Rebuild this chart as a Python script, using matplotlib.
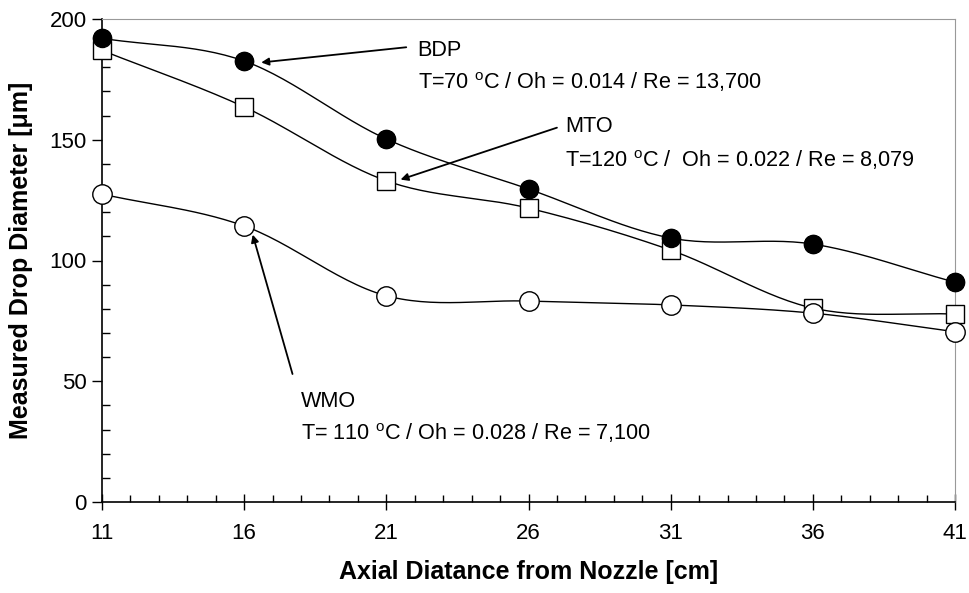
import numpy as np
import matplotlib
matplotlib.use("Agg")
import matplotlib.pyplot as plt
from matplotlib.ticker import MultipleLocator, FixedLocator

plt.rcParams["font.family"] = ["Liberation Sans", "DejaVu Sans"]

distance = [11, 16, 21, 26, 31, 36, 41]
bdp = [192.0, 182.6, 150.3, 129.6, 109.3, 106.8, 91.0]
mto = [187.0, 163.6, 133.0, 121.7, 104.3, 80.3, 77.8]
wmo = [127.5, 114.3, 85.4, 83.2, 81.6, 78.2, 70.5]


def smooth(x, y, n=30):
    # Excel-style smoothed line: Catmull-Rom through the data points
    x = np.asarray(x, float)
    y = np.asarray(y, float)
    px = np.concatenate([[2 * x[0] - x[1]], x, [2 * x[-1] - x[-2]]])
    py = np.concatenate([[2 * y[0] - y[1]], y, [2 * y[-1] - y[-2]]])
    xs, ys = [], []
    t = np.linspace(0, 1, n)
    for i in range(1, len(px) - 2):
        p0, p1, p2, p3 = [np.array([px[j], py[j]]) for j in range(i - 1, i + 3)]
        c1 = p1 + (p2 - p0) / 6
        c2 = p2 - (p3 - p1) / 6
        pts = ((1 - t) ** 3)[:, None] * p1 + (3 * (1 - t) ** 2 * t)[:, None] * c1 \
            + (3 * (1 - t) * t ** 2)[:, None] * c2 + (t ** 3)[:, None] * p2
        xs.extend(pts[:, 0])
        ys.extend(pts[:, 1])
    return np.array(xs), np.array(ys)


fig = plt.figure(figsize=(9.7, 5.93), dpi=100)
ax = fig.add_axes([102 / 970, 1 - 502 / 593, (955 - 102) / 970, (502 - 19) / 593])

for ys, mk, fc, ms in [(bdp, "o", "black", 13), (mto, "s", "white", 12.5), (wmo, "o", "white", 14)]:
    sx, sy = smooth(distance, ys)
    ax.plot(sx, sy, color="black", lw=1.0, zorder=2)
    ax.plot(distance, ys, ls="none", marker=mk, ms=ms, mfc=fc, mec="black", mew=1.0,
            zorder=3, clip_on=False)
# redraw BDP markers on top
ax.plot(distance, bdp, ls="none", marker="o", ms=13, mfc="black", mec="black", zorder=4, clip_on=False)

ax.set_xlim(11, 41)
ax.set_ylim(0, 200)
ax.xaxis.set_major_locator(FixedLocator(distance))
ax.xaxis.set_minor_locator(MultipleLocator(1))
ax.yaxis.set_major_locator(MultipleLocator(50))
ax.yaxis.set_minor_locator(MultipleLocator(10))
ax.tick_params(axis="x", which="major", direction="inout", length=12, width=1, labelsize=16, pad=9)
ax.tick_params(axis="x", which="minor", direction="in", length=5, width=1)
ax.tick_params(axis="y", which="major", direction="out", length=7, width=1, labelsize=16, pad=4)
ax.tick_params(axis="y", which="minor", direction="in", length=6, width=1)
for s in ["top", "right"]:
    ax.spines[s].set_color("#999999")
for s in ["left", "bottom"]:
    ax.spines[s].set_color("black")
    ax.spines[s].set_linewidth(1.2)

ax.set_xlabel("Axial Diatance from Nozzle [cm]", fontsize=18, fontweight="bold", labelpad=12)
ax.set_ylabel("Measured Drop Diameter [\u03bcm]", fontsize=18, fontweight="bold", labelpad=12)

arrow = dict(arrowstyle="-|>", color="black", lw=1.3, mutation_scale=11, shrinkA=0, shrinkB=0)
ax.annotate("", xy=(16.6, 182), xytext=(21.7, 188.3), arrowprops=arrow)
ax.annotate("", xy=(21.5, 133.5), xytext=(27.0, 155), arrowprops=arrow)
ax.annotate("", xy=(16.3, 110.7), xytext=(17.7, 53), arrowprops=arrow)

fs = 15.6
ax.text(22.1, 187, "BDP", fontsize=fs, va="center")
ax.text(22.1, 174, "T=70 $^\\mathregular{o}$C / Oh = 0.014 / Re = 13,700", fontsize=fs, va="center")
ax.text(27.3, 155.5, "MTO", fontsize=fs, va="center")
ax.text(27.3, 141.5, "T=120 $^\\mathregular{o}$C /  Oh = 0.022 / Re = 8,079", fontsize=fs, va="center")
ax.text(18.0, 41.5, "WMO", fontsize=fs, va="center")
ax.text(18.0, 28.5, "T= 110 $^\\mathregular{o}$C / Oh = 0.028 / Re = 7,100", fontsize=fs, va="center")

fig.savefig("out.png", dpi=100)
